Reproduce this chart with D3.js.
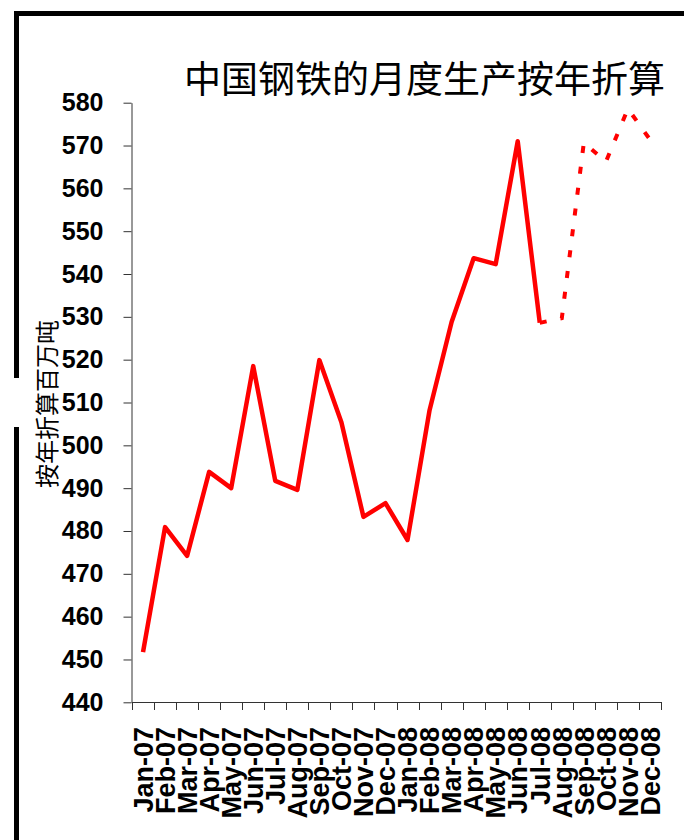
<!DOCTYPE html>
<html lang="zh">
<head>
<meta charset="UTF-8">
<title>中国钢铁的月度生产按年折算</title>
<script src="https://d3js.org/d3.v7.min.js"></script>
<style>
  body { margin: 0; background: #fff; }
  svg { display: block; }
</style>
</head>
<body>
<svg width="684" height="840" id="chart"></svg>
<script>
// months on the category axis
const months = ["Jan-07", "Feb-07", "Mar-07", "Apr-07", "May-07", "Jun-07",
  "Jul-07", "Aug-07", "Sep-07", "Oct-07", "Nov-07", "Dec-07",
  "Jan-08", "Feb-08", "Mar-08", "Apr-08", "May-08", "Jun-08",
  "Jul-08", "Aug-08", "Sep-08", "Oct-08", "Nov-08", "Dec-08"];

// annualised output, million tonnes (solid line)
const actualMonths = months.slice(0, 19);
const actualValues = [451.7, 480.9, 474.2, 493.8, 490.0, 518.5,
  491.7, 489.6, 519.9, 505.4, 483.3, 486.5,
  477.9, 508.2, 528.8, 543.7, 542.3, 571.0, 528.6];

// dotted part, starting from Jul-08
const projMonths = months.slice(18);
const projValues = [528.6, 529.7, 570.7, 566.2, 578.6, 571.4];

const yTicks = d3.range(440, 581, 10);

const svg = d3.select("#chart");

// frame (top and left edges are all that show)
svg.append("path")
  .attr("d", "M16.5,840 V427 M16.5,378 V13.5 H684")
  .attr("fill", "none")
  .attr("stroke", "#000")
  .attr("stroke-width", 5);

const x = d3.scaleBand().domain(months).range([132, 661]);
const y = d3.scaleLinear().domain([440, 580]).range([702.3, 102.7]);
const cx = m => x(m) + x.bandwidth() / 2;

// title
svg.append("text")
  .attr("x", 184)
  .attr("y", 93)
  .attr("font-family", "'Noto Sans CJK SC', sans-serif")
  .attr("font-size", 37)
  .attr("fill", "#000")
  .text("中国钢铁的月度生产按年折算");

// y axis
const yAxis = svg.append("g")
  .attr("transform", "translate(131.5,0)")
  .call(d3.axisLeft(y).tickValues(yTicks).tickSize(8).tickSizeOuter(0).tickPadding(20)
    .tickFormat(d3.format("d")));
yAxis.select(".domain").attr("stroke", "#333");
yAxis.selectAll(".tick line").attr("stroke", "#333");
yAxis.selectAll(".tick text")
  .attr("font-family", "'Liberation Sans', Arial, sans-serif")
  .attr("font-weight", "bold")
  .attr("font-size", 25)
  .attr("fill", "#000");

// y title
svg.append("text")
  .attr("transform", "translate(47,404) rotate(-90)")
  .attr("text-anchor", "middle")
  .attr("dy", "0.38em")
  .attr("font-family", "'Noto Sans CJK SC', sans-serif")
  .attr("font-size", 24)
  .attr("fill", "#000")
  .text("按年折算百万吨");

// x axis line and boundary ticks
const xAxis = svg.append("g");
xAxis.append("line")
  .attr("x1", 132).attr("x2", 661)
  .attr("y1", 702.5).attr("y2", 702.5)
  .attr("stroke", "#333");
xAxis.selectAll("line.tk")
  .data(months.map(m => x(m)).concat([x.range()[1]]))
  .join("line")
  .attr("class", "tk")
  .attr("x1", d => Math.round(d) + 0.5).attr("x2", d => Math.round(d) + 0.5)
  .attr("y1", 702).attr("y2", 710)
  .attr("stroke", "#333");

xAxis.selectAll("text")
  .data(months)
  .join("text")
  .attr("transform", d => `translate(${cx(d)},727) rotate(-90)`)
  .attr("text-anchor", "end")
  .attr("dy", "0.36em")
  .attr("font-family", "'Liberation Sans', Arial, sans-serif")
  .attr("font-weight", "bold")
  .attr("font-size", 27)
  .attr("fill", "#000")
  .text(d => d);

// lines
const line = d3.line().x(d => cx(d[0])).y(d => y(d[1]));

svg.append("path")
  .datum(d3.zip(actualMonths, actualValues))
  .attr("d", line)
  .attr("fill", "none")
  .attr("stroke", "#ff0000")
  .attr("stroke-width", 4.5)
  .attr("stroke-linejoin", "round");

svg.append("path")
  .datum(d3.zip(projMonths, projValues))
  .attr("d", line)
  .attr("fill", "none")
  .attr("stroke", "#ff0000")
  .attr("stroke-width", 4)
  .attr("stroke-dasharray", "7,14");
</script>
</body>
</html>
